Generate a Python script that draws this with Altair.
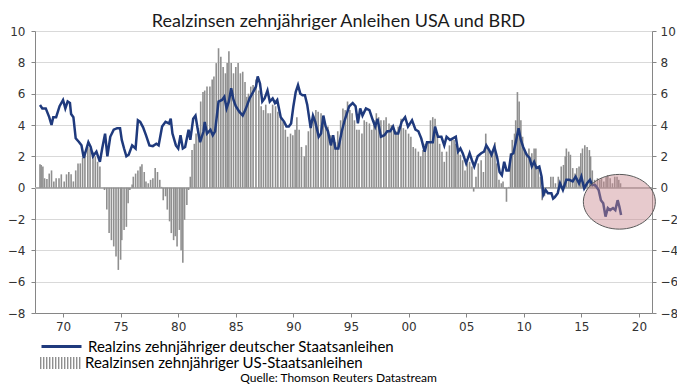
import altair as alt
import pandas as pd

# Germany: real yield of 10y Bunds (blue line)
de_years = [1968.0, 1968.2, 1968.5, 1968.8, 1969.0, 1969.15, 1969.4, 1969.7, 1970.0, 1970.2,
            1970.4, 1970.6, 1970.7, 1970.9, 1971.1, 1971.4, 1971.6, 1971.8, 1972.0, 1972.2,
            1972.4, 1972.6, 1972.9, 1973.2, 1973.4, 1973.65, 1973.85, 1974.1, 1974.4, 1974.7,
            1974.95, 1975.1, 1975.3, 1975.5, 1975.7, 1976.0, 1976.3, 1976.5, 1976.7, 1976.95,
            1977.2, 1977.5, 1977.8, 1978.1, 1978.3, 1978.6, 1978.9, 1979.2, 1979.35, 1979.5,
            1979.8, 1980.0, 1980.2, 1980.4, 1980.6, 1980.9, 1981.05, 1981.3, 1981.5, 1981.7,
            1981.9, 1982.2, 1982.3, 1982.5, 1982.8, 1983.0, 1983.2, 1983.5, 1983.8, 1984.0,
            1984.2, 1984.4, 1984.6, 1984.8, 1985.0, 1985.3, 1985.6, 1985.85, 1986.2, 1986.5,
            1986.75, 1986.9, 1987.1, 1987.3, 1987.5, 1987.75, 1987.95, 1988.2, 1988.4, 1988.6,
            1988.9, 1989.2, 1989.4, 1989.6, 1989.8, 1990.0, 1990.2, 1990.4, 1990.6, 1990.8,
            1991.0, 1991.2, 1991.5, 1991.7, 1991.9, 1992.2, 1992.4, 1992.6, 1992.8, 1993.0,
            1993.25, 1993.45, 1993.65, 1993.9, 1994.2, 1994.45, 1994.85, 1995.15, 1995.4, 1995.6,
            1995.8, 1996.0, 1996.3, 1996.6, 1996.9, 1997.1, 1997.3, 1997.6, 1997.9, 1998.15,
            1998.4, 1998.65, 1998.85, 1999.1, 1999.4, 1999.7, 1999.95, 2000.3, 2000.6, 2000.85,
            2001.1, 2001.4, 2001.6, 2001.85, 2002.1, 2002.3, 2002.55, 2002.85, 2003.1, 2003.3,
            2003.6, 2003.85, 2004.1, 2004.3, 2004.5, 2004.7, 2005.0, 2005.3, 2005.5, 2005.7,
            2006.0, 2006.3, 2006.55, 2006.75, 2007.0, 2007.2, 2007.45, 2007.7, 2007.9, 2008.1,
            2008.3, 2008.5, 2008.7, 2008.9, 2009.1, 2009.35, 2009.55, 2009.75, 2009.95, 2010.25,
            2010.5, 2010.7, 2010.9, 2011.1, 2011.35, 2011.55, 2011.7, 2011.9, 2012.1, 2012.4,
            2012.55, 2012.7, 2012.95, 2013.15, 2013.4, 2013.7, 2013.95, 2014.25, 2014.5, 2014.8,
            2015.0, 2015.25, 2015.5, 2015.75, 2015.95, 2016.2, 2016.5, 2016.7, 2016.9, 2017.1,
            2017.3, 2017.5, 2017.75, 2017.95, 2018.15, 2018.3, 2018.45]
de_values = [5.28, 5.06, 5.06, 4.5, 4.0, 4.5, 4.5, 5.2, 5.6, 5.06,
             5.5, 5.4, 4.7, 4.5, 3.15, 2.9, 2.7, 1.9, 2.4, 2.9,
             2.6, 2.0, 2.3, 1.65, 2.5, 3.45, 2.0, 3.25, 3.7, 3.8,
             3.8, 3.05, 2.5, 2.0, 2.1, 2.7, 2.5, 4.3, 4.2, 3.85,
             3.35, 2.7, 2.65, 2.8, 2.7, 3.9, 4.2, 4.1, 4.4, 3.45,
             2.7, 2.5, 3.35, 2.5, 2.6, 3.7, 3.05, 4.4, 4.6, 3.7,
             2.9, 3.6, 4.2, 3.45, 3.7, 3.35, 3.6, 5.5, 5.6, 5.8,
             5.06, 5.5, 6.35, 5.6, 5.2, 4.85, 4.6, 5.0, 5.7, 6.1,
             6.45, 7.1, 6.65, 5.5, 5.7, 6.2, 5.5, 5.7, 5.4, 5.6,
             4.5, 4.2, 3.9, 3.9, 4.1, 5.2, 6.1, 6.55, 6.0, 5.9,
             5.9, 5.3, 3.8, 4.6, 4.2, 3.25, 3.45, 4.6, 3.9, 3.6,
             2.7, 3.35, 2.5, 2.5, 3.6, 4.3, 5.2, 5.4, 5.2, 4.1,
             5.06, 4.6, 5.06, 4.95, 4.3, 3.9, 4.4, 3.25, 3.35, 3.6,
             3.6, 3.9, 3.45, 3.45, 4.2, 4.5, 3.9, 4.3, 3.7, 3.6,
             3.15, 2.3, 2.9, 2.9, 2.9, 3.9, 3.25, 3.25, 2.7, 3.25,
             3.05, 3.15, 3.25, 2.3, 2.5, 2.2, 1.55, 2.2, 1.75, 1.35,
             2.0, 2.2, 2.3, 2.7, 2.4, 2.1, 2.6, 1.9, 1.0, 0.8,
             1.65, 1.1, 1.1, 2.1, 2.2, 3.05, 3.8, 3.05, 2.6, 2.1,
             1.9, 1.35, 1.65, 1.25, 1.35, 0.7, -0.45, -0.15, -0.35, -0.35,
             -0.7, -0.6, -0.35, 0.28, -0.15, 0.5, 0.5, 0.4, 0.7, 0.28,
             0.7, -0.05, 0.28, 0.5, 0.17, 0.17, -0.15, -0.8, -1.0, -1.85,
             -1.3, -1.43, -1.3, -1.43, -0.8, -1.2, -1.75]

# USA: real yield of 10y Treasuries (grey bars)
us_years = [1968.0, 1968.1, 1968.25, 1968.4, 1968.6, 1968.8, 1969.0, 1969.2, 1969.4, 1969.65,
            1969.85, 1970.1, 1970.3, 1970.5, 1970.7, 1970.9, 1971.1, 1971.3, 1971.5, 1971.7,
            1971.9, 1972.15, 1972.35, 1972.6, 1972.8, 1973.0, 1973.2, 1973.6, 1973.8, 1974.0,
            1974.2, 1974.4, 1974.6, 1974.8, 1975.0, 1975.1, 1975.3, 1975.5, 1975.65, 1975.8,
            1976.0, 1976.1, 1976.3, 1976.5, 1976.7, 1976.85, 1977.05, 1977.2, 1977.4, 1977.6,
            1977.8, 1978.0, 1978.2, 1978.4, 1978.55, 1978.7, 1978.9, 1979.05, 1979.25, 1979.4,
            1979.6, 1979.75, 1979.9, 1980.1, 1980.25, 1980.4, 1980.55, 1980.75, 1980.9, 1981.05,
            1981.2, 1981.4, 1981.55, 1981.75, 1981.95, 1982.15, 1982.3, 1982.5, 1982.75, 1982.95,
            1983.1, 1983.3, 1983.5, 1983.7, 1983.9, 1984.1, 1984.25, 1984.4, 1984.6, 1984.8,
            1985.0, 1985.2, 1985.4, 1985.6, 1985.8, 1985.95, 1986.1, 1986.3, 1986.5, 1986.75,
            1987.0, 1987.2, 1987.4, 1987.6, 1987.8, 1988.0, 1988.2, 1988.45, 1988.65, 1988.9,
            1989.1, 1989.3, 1989.5, 1989.75, 1989.95, 1990.15, 1990.3, 1990.5, 1990.7, 1990.95,
            1991.1, 1991.3, 1991.5, 1991.75, 1991.95, 1992.15, 1992.4, 1992.6, 1992.8, 1993.0,
            1993.25, 1993.45, 1993.65, 1993.85, 1994.1, 1994.3, 1994.5, 1994.7, 1994.9, 1995.1,
            1995.3, 1995.5, 1995.7, 1995.95, 1996.15, 1996.35, 1996.6, 1996.8, 1997.0, 1997.2,
            1997.4, 1997.6, 1997.85, 1998.05, 1998.3, 1998.5, 1998.7, 1998.9, 1999.1, 1999.35,
            1999.55, 1999.75, 2000.0, 2000.2, 2000.4, 2000.6, 2000.85, 2001.05, 2001.25, 2001.45,
            2001.7, 2001.9, 2002.1, 2002.3, 2002.5, 2002.7, 2002.9, 2003.1, 2003.3, 2003.55,
            2003.75, 2003.95, 2004.1, 2004.3, 2004.5, 2004.7, 2004.9, 2005.1, 2005.3, 2005.5,
            2005.65, 2005.85, 2006.05, 2006.3, 2006.5, 2006.7, 2006.9, 2007.1, 2007.3, 2007.5,
            2007.65, 2007.85, 2008.05, 2008.2, 2008.35, 2008.5, 2008.7, 2008.85, 2009.0, 2009.2,
            2009.3, 2009.45, 2009.6, 2009.75, 2009.9, 2010.05, 2010.25, 2010.45, 2010.7, 2010.9,
            2011.05, 2011.25, 2011.45, 2011.6, 2011.8, 2012.0, 2012.2, 2012.35, 2012.55, 2012.75,
            2013.0, 2013.25, 2013.45, 2013.6, 2013.7, 2013.9, 2014.05, 2014.25, 2014.45, 2014.6,
            2014.8, 2014.95, 2015.1, 2015.3, 2015.5, 2015.7, 2015.8, 2015.95, 2016.15, 2016.4,
            2016.6, 2016.75, 2016.95, 2017.15, 2017.3, 2017.5, 2017.7, 2017.9, 2018.1, 2018.25,
            2018.4]
us_values = [1.5, 1.45, 1.35, 0.6, 0.55, 0.9, 1.1, 0.4, 0.6, 0.6,
             0.85, 0.4, 0.85, 1.0, 0.85, 0.4, 1.1, 1.55, 1.55, 1.9,
             2.3, 2.6, 2.5, 2.3, 2.0, 1.65, 1.35, -0.15, -1.4, -2.9,
             -3.35, -3.75, -4.4, -5.25, -4.6, -3.35, -2.7, -2.5, -1.0, -0.15,
             0.2, 0.7, 0.9, 1.1, 1.35, 1.5, 1.0, 0.4, 0.28, 0.5,
             0.6, 1.25, 1.0, 0.5, 0.05, -0.8, -0.55, -1.4, -2.15, -2.9,
             -3.35, -3.1, -3.75, -2.7, -4.0, -4.8, -2.05, -1.1, -0.15, 0.7,
             2.4, 2.8, 3.45, 3.8, 5.5, 6.1, 6.2, 6.45, 6.45, 6.9,
             7.1, 7.95, 8.9, 8.35, 7.7, 7.3, 7.95, 8.7, 7.95, 7.3,
             7.7, 7.95, 7.3, 7.4, 6.75, 5.8, 6.0, 6.45, 6.55, 6.9,
             6.2, 5.2, 4.95, 5.3, 4.75, 4.75, 5.3, 5.2, 4.85, 4.5,
             4.2, 3.7, 3.25, 3.45, 3.35, 3.7, 4.5, 3.7, 2.6, 2.0,
             2.7, 3.6, 4.1, 4.6, 4.95, 4.85, 4.75, 4.3, 3.8, 3.9,
             3.35, 3.05, 2.9, 3.6, 4.3, 5.06, 4.95, 5.5, 4.95, 4.75,
             4.3, 3.7, 3.7, 3.45, 4.3, 4.2, 4.1, 3.7, 4.3, 4.75,
             4.5, 4.3, 4.3, 4.5, 4.1, 4.0, 3.8, 3.6, 3.9, 4.4,
             3.8, 3.7, 3.45, 3.25, 2.6, 2.5, 2.3, 2.0, 2.4, 2.8,
             2.9, 4.3, 4.5, 4.4, 3.45, 2.8, 2.3, 1.65, 2.3, 2.7,
             3.15, 3.05, 2.8, 2.3, 2.1, 1.75, 1.1, 1.55, 1.65, 1.35,
             -0.25, 0.7, 1.55, 1.75, 1.0, 3.45, 2.5, 2.3, 2.3, 2.9,
             1.55, 0.5, 0.28, 0.4, -0.05, -0.9, 0.05, 2.2, 3.05, 3.45,
             4.3, 6.1, 5.5, 4.3, 3.25, 2.4, 2.2, 2.5, 2.2, 2.5,
             2.5, 1.35, 0.7, -0.8, -0.55, 0.05, 0.05, 0.7, 0.7, 0.28,
             0.7, 1.35, 1.45, 2.0, 2.5, 2.3, 2.1, 1.25, 0.9, 1.25,
             1.35, 2.2, 2.5, 2.7, 2.6, 2.4, 2.0, 1.1, 0.5, 0.6,
             0.5, 0.6, 0.4, 0.7, 0.8, 0.6, 0.28, 0.7, 0.7, 0.5,
             0.28]

# highlighted region (ellipse annotation)
mark_year = [2018.3]
mark_value = [-0.9]

TITLE = "Realzinsen zehnjähriger Anleihen USA und BRD"
DE_LABEL = "Realzins zehnjähriger deutscher Staatsanleihen"
US_LABEL = "Realzinsen zehnjähriger US-Staatsanleihen"
SOURCE = "Quelle: Thomson Reuters Datastream"
x_ticks = [1970, 1975, 1980, 1985, 1990, 1995, 2000, 2005, 2010, 2015, 2020]
y_ticks = [-8, -6, -4, -2, 0, 2, 4, 6, 8, 10]

de = pd.DataFrame({"year": de_years, "value": de_values, "series": DE_LABEL})
us = pd.DataFrame({"year": us_years, "value": us_values, "series": US_LABEL})
circ = pd.DataFrame({"year": mark_year, "value": mark_value})

xscale = alt.Scale(domain=[1968, 2020.7], nice=False, zero=False)
yscale = alt.Scale(domain=[-8, 10], nice=False)

x_axis = alt.Axis(values=x_ticks, grid=False,
                  labelExpr="(datum.value % 100 < 10 ? '0' : '') + (datum.value % 100)",
                  labelFont="DejaVu Sans", labelFontSize=12, labelColor="#333",
                  tickSize=4, labelPadding=4, domainColor="#868686", tickColor="#868686",
                  title=SOURCE, titleFont="Lato", titleFontSize=12, titleFontWeight="normal",
                  titleColor="#000", titleX=303, titleY=64, titleBaseline="middle",
                  titleAlign="center", titleAnchor="middle")
X = alt.X("year:Q", scale=xscale, axis=x_axis)

left_axis = alt.Axis(values=y_ticks, grid=True, gridColor="#d9d9d9", gridWidth=1,
                     labelFont="DejaVu Sans", labelFontSize=12, labelColor="#333",
                     tickSize=4, labelPadding=6, domainColor="#868686", tickColor="#868686",
                     title=None, orient="left")
right_axis = alt.Axis(values=y_ticks, grid=False,
                      labelFont="DejaVu Sans", labelFontSize=12, labelColor="#333",
                      tickSize=4, labelPadding=4, domainColor="#868686", tickColor="#868686",
                      title=None, orient="right")

zero = alt.Chart(de).mark_rule(color="#b0b0b0", strokeWidth=1).encode(
    y=alt.datum(0, scale=yscale, axis=None)
)

stripes = " ".join(
    f"M{-1 + i * 0.15:.2f},-0.3h0.07v0.6h-0.07z" for i in range(14)
)

bars = alt.Chart(us).mark_bar(orient="vertical", width=1.6).encode(
    x=X,
    y=alt.Y("value:Q", scale=yscale, axis=right_axis),
    y2=alt.datum(0),
    fill=alt.Fill("series:N", scale=alt.Scale(domain=[US_LABEL], range=["#8f8f8f"]),
                  legend=alt.Legend(title=None, orient="none", legendX=5, legendY=312,
                                    symbolType=stripes, symbolSize=1600, symbolStrokeWidth=0,
                                    labelFont="Lato", labelFontSize=15, labelColor="#000",
                                    labelOffset=5, labelLimit=600, padding=0)),
)

line = alt.Chart(de).mark_line(strokeWidth=2.5).encode(
    x=X,
    y=alt.Y("value:Q", scale=yscale, axis=left_axis),
    stroke=alt.Stroke("series:N", scale=alt.Scale(domain=[DE_LABEL], range=["#1f3a7d"]),
                      legend=alt.Legend(title=None, orient="none", legendX=5, legendY=294,
                                        symbolType="stroke", symbolSize=1600,
                                        symbolStrokeWidth=3,
                                        labelFont="Lato", labelFontSize=15, labelColor="#000",
                                        labelOffset=5, labelLimit=600, padding=0)),
)

ellipse = alt.Chart(circ).mark_point(
    shape="M-1,0A1,0.76,0,1,1,1,0A1,0.76,0,1,1,-1,0Z",
    size=5184, filled=True, fill="#c98a90", fillOpacity=0.45,
    stroke="#5a5a5a", strokeWidth=1, strokeOpacity=1, opacity=1,
).encode(
    x=X,
    y=alt.Y("value:Q", scale=yscale, axis=None),
)

chart = alt.layer(zero, bars, line, ellipse).resolve_axis(y="independent").resolve_scale(
    stroke="independent", fill="independent"
).properties(
    width=617, height=282,
    title=alt.TitleParams(TITLE, font="Lato", fontSize=18, fontWeight="normal",
                          color="#1a1a1a", anchor="middle", frame="group", offset=8,
                          dx=-5, dy=14),
    autosize=alt.AutoSizeParams(type="none"),
    padding={"left": 27, "top": 23, "right": 25, "bottom": 71},
).configure_view(stroke=None).configure(background="white")

chart.save("out.html", embed_options={"renderer": "svg", "actions": False})
